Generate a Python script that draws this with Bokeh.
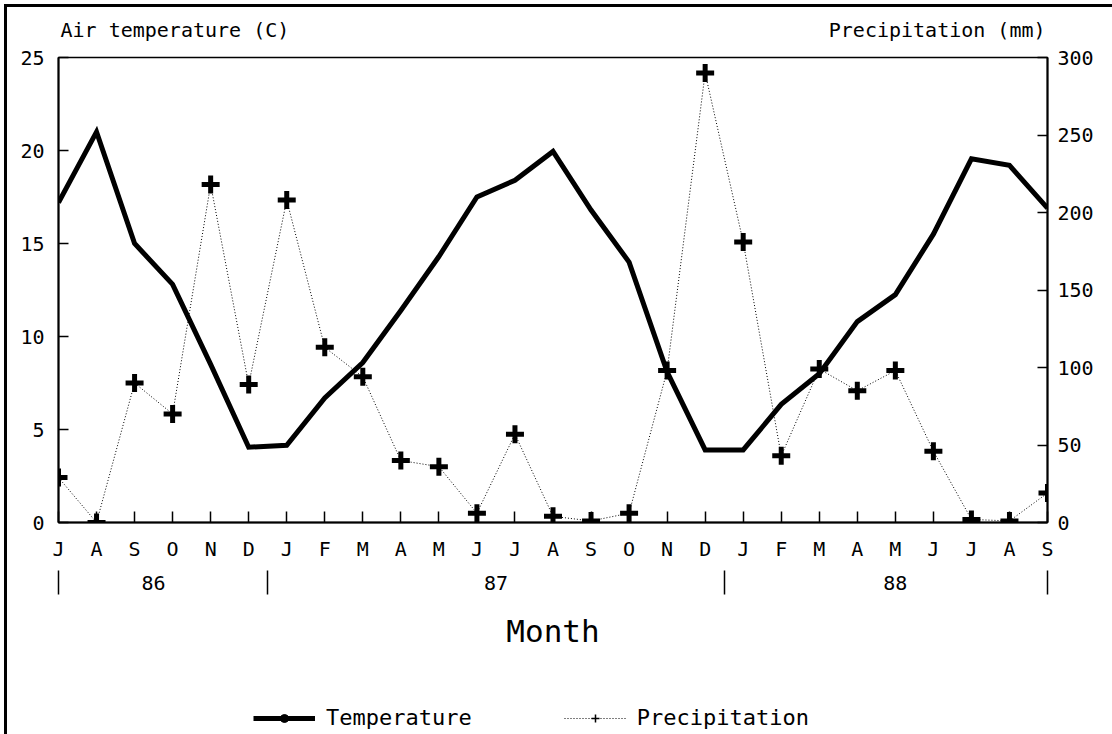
from bokeh.plotting import figure
from bokeh.layouts import column
from bokeh.models import (Range1d, LinearAxis, FixedTicker, Legend, LegendItem)
from bokeh.embed import file_html
from bokeh.resources import INLINE

# Monthly series, July 1986 to September 1988
months = ["J", "A", "S", "O", "N", "D",
          "J", "F", "M", "A", "M", "J", "J", "A", "S", "O", "N", "D",
          "J", "F", "M", "A", "M", "J", "J", "A", "S"]
temperature = [17.2, 21.0, 15.0, 12.8, 8.5, 4.05,
               4.15, 6.7, 8.6, 11.4, 14.3, 17.5, 18.4, 19.95, 16.8, 14.0, 8.1, 3.9,
               3.9, 6.35, 8.0, 10.8, 12.25, 15.5, 19.55, 19.2, 16.9]
precipitation = [29, 0, 90, 70, 218, 89,
                 208, 113, 94, 40, 36, 6, 57, 4, 1, 6, 98, 290,
                 181, 43, 99, 85, 98, 46, 2, 1, 19]
years = ["86", "87", "88"]
year_first_month = [0, 6, 18]

temp_ticks = [0, 5, 10, 15, 20, 25]
prec_ticks = [0, 50, 100, 150, 200, 250, 300]
left_title = "Air temperature (C)"
right_title = "Precipitation (mm)"

FONT = "DejaVu Sans Mono"
INK = "black"
CHAR_W = 0.602          # advance width of the mono font, in em
x = list(range(len(months)))
last = len(months) - 1

# page layout in pixels
PAGE = 7                # page rule inset (left and top)
W = 1112 - PAGE
H_MAIN = 693
H_KEY = 34
FRAME_L, FRAME_R, FRAME_T, FRAME_B = 51, 65, 50, 178
frame_w = W - FRAME_L - FRAME_R
px_per_month = frame_w / last

# year spans on the month axis: label centres and boundary marks
starts = year_first_month
ends = year_first_month[1:] + [len(months)]
year_centers = [(s + min(e - 1, last)) / 2 for s, e in zip(starts, ends)]
year_bounds = [0] + [s - 0.5 for s in starts[1:]] + [last]

p = figure(width=W, height=H_MAIN, output_backend="svg", toolbar_location=None,
           x_range=Range1d(0, last), y_range=Range1d(0, 25),
           x_axis_location=None, y_axis_location=None,
           min_border_left=FRAME_L, min_border_right=FRAME_R,
           min_border_top=FRAME_T, min_border_bottom=FRAME_B)
p.extra_y_ranges = {"prec": Range1d(0, 300)}
p.grid.visible = False
p.outline_line_color = INK
p.outline_line_width = 1.5
p.background_fill_color = "white"
p.border_fill_color = "white"

tick_font = "20px"


def style_axis(axis, size=tick_font):
    axis.major_label_text_font = FONT
    axis.major_label_text_font_size = size
    axis.major_label_text_color = INK
    axis.axis_line_color = INK
    axis.major_tick_line_color = INK
    axis.minor_tick_line_color = None


# month letters along the bottom
xa = LinearAxis(ticker=FixedTicker(ticks=x),
                major_label_overrides={i: m for i, m in enumerate(months)})
style_axis(xa)
xa.major_tick_in = 11
xa.major_tick_out = 0
xa.axis_line_width = 2
xa.major_tick_line_width = 1.5
xa.major_label_standoff = 14
p.add_layout(xa, "below")

# year row with boundary marks and the axis title
ya = LinearAxis(ticker=FixedTicker(ticks=year_centers, minor_ticks=year_bounds),
                major_label_overrides={c: y for c, y in zip(year_centers, years)})
style_axis(ya)
ya.axis_line_color = None
ya.major_tick_line_color = None
ya.major_tick_in = 0
ya.major_tick_out = 0
ya.minor_tick_line_color = INK
ya.minor_tick_in = -7
ya.minor_tick_out = 31
ya.minor_tick_line_width = 1.5
ya.major_label_standoff = -19
ya.axis_label = "Month"
ya.axis_label_text_font = FONT
ya.axis_label_text_font_style = "normal"
ya.axis_label_text_font_size = "31px"
ya.axis_label_text_color = INK
ya.axis_label_standoff = 20
p.add_layout(ya, "below")

# temperature scale on the left
la = LinearAxis(ticker=FixedTicker(ticks=temp_ticks))
style_axis(la)
la.major_tick_in = 10
la.major_tick_out = 0
la.axis_line_width = 2
la.major_tick_line_width = 1.5
la.major_label_standoff = 14
p.add_layout(la, "left")

# precipitation scale on the right
ra = LinearAxis(y_range_name="prec", ticker=FixedTicker(ticks=prec_ticks))
style_axis(ra)
ra.major_tick_in = 10
ra.major_tick_out = 0
ra.axis_line_width = 2
ra.major_tick_line_width = 1.5
ra.major_label_standoff = 10
p.add_layout(ra, "right")

# scale titles above the frame: left one flush left, right one flush right
title_px = 20
half_l = len(left_title) * CHAR_W * title_px / 2
half_r = len(right_title) * CHAR_W * title_px / 2
tl = (2 + half_l) / px_per_month
tr = last - (2 + half_r) / px_per_month
ta = LinearAxis(ticker=FixedTicker(ticks=[tl, tr]),
                major_label_overrides={tl: left_title, tr: right_title})
style_axis(ta, f"{title_px}px")
ta.axis_line_color = None
ta.major_tick_line_color = None
ta.major_tick_in = 0
ta.major_tick_out = 0
ta.major_label_standoff = 16
p.add_layout(ta, "above")

temp_line = p.line(x, temperature, line_color=INK, line_width=5,
                   line_join="miter")
prec_line = p.line(x, precipitation, y_range_name="prec", line_color=INK,
                   line_width=1, line_dash="1 2")
p.scatter(x, precipitation, y_range_name="prec", marker="cross", size=18,
          line_color=INK, line_width=5)

# key strip below the chart; its glyphs sit outside the visible range
key = figure(width=W, height=H_KEY, output_backend="svg", toolbar_location=None,
             x_range=Range1d(-100, -99), y_range=Range1d(-100, -99),
             x_axis_location=None, y_axis_location=None,
             min_border=0)
key.grid.visible = False
key.outline_line_color = None
key.background_fill_color = "white"
key.border_fill_color = "white"
k_temp = key.line(x, temperature, line_color=INK, line_width=5)
k_temp_pt = key.scatter(x, temperature, marker="circle", size=7,
                        fill_color=INK, line_color=INK)
k_prec = key.line(x, precipitation, line_color=INK, line_width=1,
                  line_dash="1 2")
k_prec_pt = key.scatter(x, precipitation, marker="cross", size=6,
                        line_color=INK, line_width=1.5)

legend = Legend(items=[
    LegendItem(label="Temperature", renderers=[k_temp, k_temp_pt]),
    LegendItem(label="Precipitation", renderers=[k_prec, k_prec_pt]),
], orientation="horizontal", location=(195, 4))
legend.glyph_width = 62
legend.glyph_height = 20
legend.label_text_font = FONT
legend.label_text_font_size = "22px"
legend.label_text_color = INK
legend.label_standoff = 11
legend.spacing = 92
legend.padding = 2
legend.margin = 0
legend.border_line_color = None
legend.background_fill_alpha = 0
key.add_layout(legend, "center")

page = column(p, key, spacing=0,
              styles={"border-left": "3px solid black",
                      "border-top": "3px solid black",
                      "margin-left": "4px", "margin-top": "4px"})

open("out.html", "w").write(file_html(page, INLINE))
